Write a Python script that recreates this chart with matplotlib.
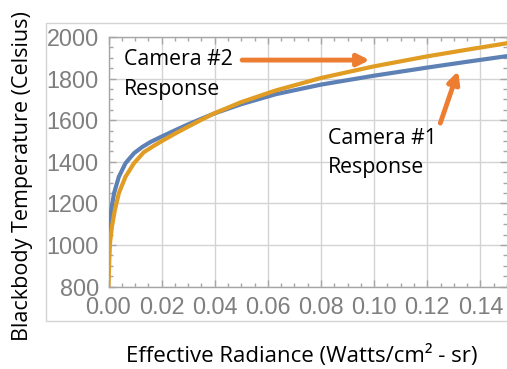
import matplotlib
matplotlib.use('Agg')
import matplotlib.pyplot as plt
from matplotlib.patches import Rectangle
from matplotlib.ticker import MultipleLocator

# Camera #1 response (radiance in W/cm^2-sr, temperature in C)
cam1_radiance = [0.0, 0.0004, 0.00105, 0.0021, 0.0039, 0.0064, 0.0096, 0.0127,
                 0.0158, 0.0195, 0.025, 0.030, 0.035, 0.040, 0.050, 0.063,
                 0.080, 0.100, 0.120, 0.135, 0.150]
cam1_temp = [1000, 1090, 1168, 1249, 1328, 1393, 1441, 1471,
             1495, 1518, 1551, 1580, 1607, 1633, 1677, 1725,
             1771, 1814, 1853, 1881, 1908]

# Camera #2 response
cam2_radiance = [0.0, 0.0003, 0.00056, 0.0013, 0.0024, 0.0039, 0.0064, 0.0096,
                 0.0133, 0.017, 0.020, 0.025, 0.030, 0.035, 0.040, 0.050,
                 0.063, 0.080, 0.100, 0.120, 0.135, 0.150]
cam2_temp = [800, 928, 1008, 1088, 1168, 1249, 1328, 1393,
             1446, 1476, 1499, 1535, 1569, 1602, 1634, 1687,
             1743, 1803, 1859, 1907, 1939, 1970]

BLUE = '#5E81B5'
GOLD = '#E19C24'
ARROW = '#ED7D31'
GRAY = '#7F7F7F'

TICK_FONT = 'Liberation Sans'
LABEL_FONT = 'Open Sans'

fig = plt.figure(figsize=(5.07, 3.69), dpi=100)

# light outer frame behind the plot
fig.patches.append(Rectangle((46 / 507, 1 - 321 / 369), 1.0, 298 / 369,
                             transform=fig.transFigure, fill=False,
                             edgecolor='#D4D4D4', linewidth=1.0))

ax = fig.add_axes([108.5 / 507, 1 - 286.5 / 369, 398.5 / 507, 249.5 / 369])
ax.set_facecolor('white')

ax.plot(cam1_radiance, cam1_temp, color=BLUE, linewidth=3, zorder=3,
        solid_joinstyle='round')
ax.plot(cam2_radiance, cam2_temp, color=GOLD, linewidth=3, zorder=4,
        solid_joinstyle='round')

ax.set_xlim(0, 0.15)
ax.set_ylim(800, 2000)
ax.xaxis.set_major_locator(MultipleLocator(0.02))
ax.xaxis.set_minor_locator(MultipleLocator(0.005))
ax.yaxis.set_major_locator(MultipleLocator(200))
ax.yaxis.set_minor_locator(MultipleLocator(50))
ax.xaxis.set_major_formatter(plt.FuncFormatter(lambda v, p: f'{v:.2f}'))
ax.yaxis.set_major_formatter(plt.FuncFormatter(lambda v, p: f'{v:.0f}'))

ax.grid(True, which='major', color='#D3D3D3', linewidth=1.0, zorder=0)
ax.set_axisbelow(True)

for side in ['left', 'bottom', 'top', 'right']:
    ax.spines[side].set_color('#A6A6A6')
    ax.spines[side].set_linewidth(1.0)
ax.spines['right'].set_visible(False)

ax.tick_params(which='both', direction='in', top=True, right=True,
               color='#A6A6A6', width=1.0)
ax.tick_params(which='major', length=5)
ax.tick_params(which='minor', length=3)
ax.tick_params(axis='x', which='major', pad=7, labelsize=16.8, labelcolor=GRAY)
ax.tick_params(axis='y', which='major', pad=7, labelsize=16.8, labelcolor=GRAY)
for lab in ax.get_xticklabels() + ax.get_yticklabels():
    lab.set_fontfamily(TICK_FONT)

fig.text(23 / 507, 1 - 176 / 369, 'Blackbody Temperature (Celsius)',
         rotation=90, ha='center', va='center', fontsize=15.5,
         family=LABEL_FONT, color='black')
fig.text(302 / 507, 1 - 362 / 369, 'Effective Radiance (Watts/cm\u00b2 - sr)',
         ha='center', va='baseline', fontsize=16, family=LABEL_FONT,
         color='black')

# multi-line labels are anchored at the baseline of their last line
ax.text(0.0058, 1721, 'Camera #2\nResponse', ha='left', va='baseline',
        fontsize=15.3, family=LABEL_FONT, linespacing=1.55, zorder=6)
ax.text(0.0826, 1344, 'Camera #1\nResponse', ha='left', va='baseline',
        fontsize=15.3, family=LABEL_FONT, linespacing=1.55, zorder=6)

arrow_style = dict(arrowstyle='-|>,head_length=0.7,head_width=0.35',
                   color=ARROW, linewidth=3.5, shrinkA=0, shrinkB=0)
ax.annotate('', xy=(0.0983, 1889), xytext=(0.0503, 1889),
            arrowprops=arrow_style, zorder=6)
ax.annotate('', xy=(0.1316, 1836), xytext=(0.1249, 1586),
            arrowprops=arrow_style, zorder=6)

fig.savefig('out.png', dpi=100, facecolor='white')
